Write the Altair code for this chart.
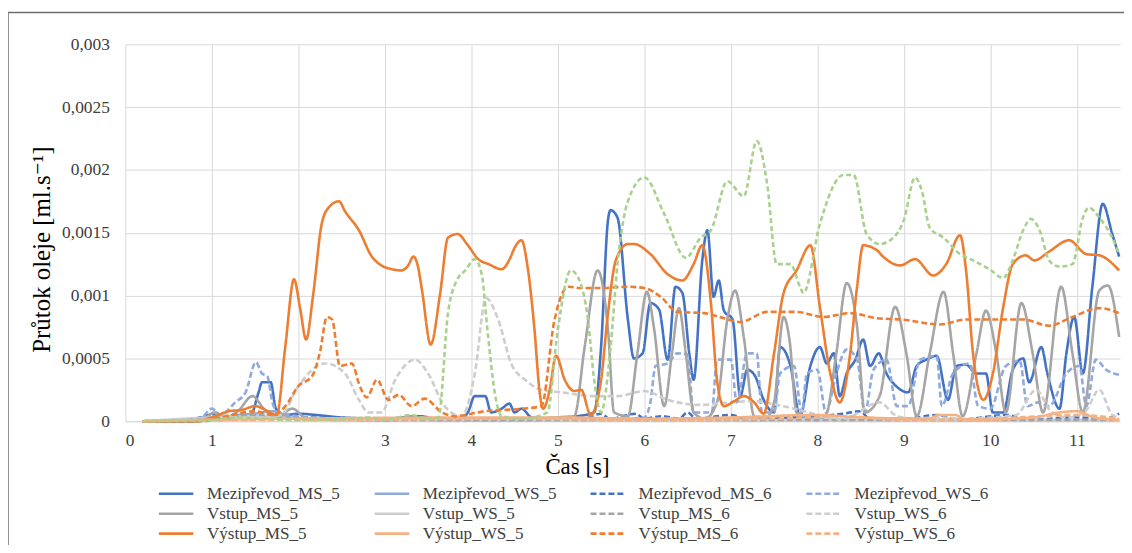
import altair as alt
import pandas as pd

# ---------------- data (time in s, flow in 1e-4 ml/s) ----------------
# legend order (filled column by column: 4 columns x 3 rows)
names = ["Mezipřevod_MS_5", "Vstup_MS_5", "Výstup_MS_5",
         "Mezipřevod_WS_5", "Vstup_WS_5", "Výstup_WS_5",
         "Mezipřevod_MS_6", "Vstup_MS_6", "Výstup_MS_6",
         "Mezipřevod_WS_6", "Vstup_WS_6", "Výstup_WS_6"]
colors = ["#4472C4", "#A5A5A5", "#ED7D31",
          "#8FAADC", "#CDCDCD", "#F4B183",
          "#4472C4", "#A5A5A5", "#ED7D31",
          "#8FAADC", "#CDCDCD", "#F4B183"]
dashes = [[1, 0], [1, 0], [1, 0],
          [1, 0], [1, 0], [1, 0],
          [6, 3], [6, 3], [6, 3],
          [6, 3], [6, 3], [6, 3]]
green_name = "Zelená"
green_color = "#A9D18E"

mezi_ms5_t = [0.2, 0.8, 0.85, 1.0, 1.1, 1.3, 1.45, 1.54, 1.58, 1.68, 1.74, 1.85, 2.0, 2.2, 2.5, 3.0, 3.4, 3.6, 3.9, 3.96,
              4.04, 4.16, 4.23, 4.35, 4.44, 4.5, 4.58, 4.7, 5.0, 5.23, 5.42, 5.5, 5.58, 5.61, 5.69, 5.81, 5.88, 5.98,
              6.07, 6.17, 6.27, 6.36, 6.44, 6.52, 6.57, 6.67, 6.73, 6.8, 6.86, 6.92, 7.02, 7.11, 7.19, 7.28, 7.38,
              7.5, 7.57, 7.69, 7.8, 7.92, 8.03, 8.11, 8.19, 8.26, 8.34, 8.44, 8.53, 8.61, 8.71, 8.8, 8.91, 9.05,
              9.15, 9.26, 9.38, 9.51, 9.61, 9.72, 9.84, 9.95, 10.03, 10.15, 10.26, 10.38, 10.45, 10.59, 10.66,
              10.8, 10.88, 10.97, 11.07, 11.18, 11.3, 11.41, 11.49]
mezi_ms5_v = [0, 0, 0.3, 0.3, 0.1, 0.4, 0.5, 2.3, 3.1, 3.1, 1.0, 0.5, 0.6, 0.5, 0.3, 0.2, 0.4, 0.2, 0.3, 0.7,
              2.0, 2.0, 0.7, 1.0, 1.4, 0.7, 1.0, 0.3, 0.2, 0.4, 0.7, 5.9, 16.0, 16.8, 16.2, 8.1, 5.0, 5.4,
              9.4, 8.9, 4.9, 10.7, 10.2, 5.4, 3.3, 12.8, 15.2, 9.9, 11.2, 8.8, 8.1, 2.0, 4.1, 3.6, 1.7,
              0.7, 5.9, 4.4, 0.4, 4.4, 5.9, 4.6, 5.4, 2.0, 3.8, 4.9, 6.5, 4.4, 5.4, 3.8, 2.8, 2.3,
              4.4, 4.9, 5.2, 1.7, 4.4, 4.5, 3.8, 3.8, 0.7, 0.7, 4.1, 5.0, 3.1, 5.9, 3.8,
              1.0, 5.4, 8.3, 3.8, 10.7, 17.3, 14.9, 13.1]

mezi_ws5_t = [0.2, 0.9, 1.0, 1.1, 1.3, 1.5, 1.7, 1.9, 2.5, 4.0, 6.0, 8.0, 10.0, 11.49]
mezi_ws5_v = [0, 0.2, 0.6, 0.2, 0.5, 0.6, 0.8, 0.3, 0.1, 0.1, 0.1, 0.1, 0.1, 0.1]

mezi_ms6_t = [0.2, 0.8, 0.9, 1.0, 1.2, 1.5, 1.8, 2.0, 2.5, 3.0, 3.4, 3.6, 4.5, 5.3, 5.5, 5.6, 5.9, 6.0, 6.2, 6.4,
              6.5, 6.6, 7.0, 7.2, 7.7, 8.3, 8.5, 8.6, 9.0, 9.4, 9.6, 10.2, 10.4, 11.0, 11.3, 11.49]
mezi_ms6_v = [0, 0, 0.4, 0.5, 0.3, 0.4, 0.2, 0.3, 0.2, 0.1, 0.3, 0.1, 0.1, 0.2, 0.6, 0.2, 0.6, 0.2, 0.4, 0.2,
              0.7, 0.2, 0.5, 0.1, 0.3, 0.6, 0.8, 0.2, 0.2, 0.5, 0.1, 0.5, 0.1, 0.3, 0.2, 0.6]

mezi_ws6_t = [0.2, 0.85, 1.0, 1.1, 1.27, 1.39, 1.51, 1.58, 1.64, 1.7, 1.76, 1.9, 2.1, 2.5, 3.0, 4.0, 5.0, 5.8,
              6.0, 6.07, 6.13, 6.27, 6.38, 6.5, 6.57, 6.78, 6.84, 7.0, 7.07, 7.19, 7.3, 7.36, 7.5, 7.57, 7.73,
              7.82, 7.88, 8.0, 8.1, 8.22, 8.34, 8.46, 8.55, 8.65, 8.8, 8.92, 9.05, 9.19, 9.38, 9.44, 9.57, 9.76,
              9.86, 10.0, 10.18, 10.34, 10.43, 10.55, 10.68, 10.88, 11.03, 11.11, 11.22, 11.34, 11.49]
mezi_ws6_v = [0, 0.1, 1.0, 0.5, 1.5, 2.3, 4.7, 3.8, 3.6, 1.5, 0.7, 0.5, 0.3, 0.2, 0.1, 0.2, 0.2, 0.2,
              0.3, 1.5, 4.4, 4.6, 5.4, 5.3, 0.7, 0.7, 4.9, 4.9, 1.5, 5.4, 5.4, 0.7, 0.7, 3.8, 4.4,
              0.7, 3.8, 4.1, 0.7, 3.8, 5.7, 4.9, 0.7, 4.1, 4.9, 1.2, 1.2, 4.9, 5.2, 1.2, 3.8, 4.6,
              1.2, 1.0, 4.4, 4.8, 1.2, 1.5, 1.2, 3.8, 4.4, 1.2, 4.9, 4.1, 3.7]

vstup_ms5_t = [0.2, 0.85, 1.04, 1.15, 1.3, 1.47, 1.6, 1.75, 1.93, 2.1, 3.0, 3.5, 4.0, 5.19, 5.31, 5.46, 5.58,
               5.65, 5.81, 5.92, 6.03, 6.11, 6.23, 6.32, 6.4, 6.48, 6.57, 6.7, 6.84, 6.96, 7.05, 7.15, 7.27,
               7.4, 7.5, 7.61, 7.68, 7.76, 8.0, 8.1, 8.22, 8.34, 8.46, 8.55, 8.72, 8.9, 9.03, 9.15, 9.3, 9.46,
               9.57, 9.68, 9.84, 9.95, 10.07, 10.18, 10.36, 10.49, 10.61, 10.82, 10.95, 11.07, 11.26, 11.36, 11.49]
vstup_ms5_v = [0, 0, 0.7, 0.3, 0.8, 2.0, 1.0, 0.3, 1.0, 0.2, 0.1, 0.2, 0.1, 0.4, 5.9, 12.0, 7.3,
               0.7, 0.4, 5.4, 10.3, 7.5, 1.2, 5.4, 9.0, 5.4, 0.7, 0.2, 1.5, 8.1, 10.4, 6.7, 0.4,
               0.2, 1.5, 8.3, 6.4, 0.7, 0.1, 0.5, 5.4, 11.0, 7.5, 0.7, 2.0, 9.1, 5.4, 0.4, 5.4, 10.3,
               5.4, 0.4, 5.4, 8.8, 5.4, 0.7, 9.4, 5.4, 0.7, 10.7, 5.4, 0.7, 10.4, 10.8, 6.7]

vstup_ws5_t = [0.2, 1.0, 1.5, 2.0, 3.0, 5.0, 8.0, 11.49]
vstup_ws5_v = [0, 0.3, 0.4, 0.2, 0.1, 0.1, 0.1, 0.1]

vstup_ms6_t = [0.2, 1.0, 1.5, 2.0, 3.0, 6.0, 9.0, 11.49]
vstup_ms6_v = [0, 0.2, 0.5, 0.2, 0.1, 0.1, 0.1, 0.1]

vstup_ws6_t = [0.2, 0.9, 1.1, 1.3, 1.6, 1.8, 2.0, 2.31, 2.54, 2.7, 2.81, 2.96, 3.12, 3.35, 3.5, 3.69, 3.89,
               4.04, 4.17, 4.31, 4.46, 4.62, 4.81, 5.04, 5.42, 5.69, 6.0, 6.27, 6.65, 7.0, 7.23, 7.6, 7.9,
               8.1, 8.3, 8.72, 8.9, 9.1, 9.4, 9.7, 10.0, 10.3, 10.53, 10.7, 10.9, 11.1, 11.26, 11.41, 11.49]
vstup_ws6_v = [0, 0.1, 0.5, 0.3, 0.3, 0.5, 2.8, 4.6, 3.8, 1.7, 0.7, 0.7, 3.3, 4.9, 3.8, 1.2, 0.4,
               3.8, 9.8, 8.1, 4.6, 3.3, 2.5, 2.3, 2.0, 2.0, 2.4, 1.7, 1.3, 1.5, 1.6, 1.2, 0.7,
               0.3, 0.2, 1.5, 0.5, 0.2, 0.3, 0.2, 0.3, 0.5, 2.5, 0.8, 0.3, 0.8, 2.5, 0.5, 0.3]

vystup_ms5_t = [0.2, 0.8, 1.0, 1.2, 1.35, 1.5, 1.62, 1.75, 1.85, 1.95, 2.02, 2.09, 2.17, 2.27, 2.35, 2.47, 2.54,
                2.7, 2.85, 2.96, 3.08, 3.19, 3.27, 3.33, 3.38, 3.43, 3.53, 3.64, 3.73, 3.84, 3.96, 4.08, 4.2,
                4.35, 4.45, 4.5, 4.58, 4.65, 4.73, 4.79, 4.83, 4.9, 4.98, 5.08, 5.19, 5.27, 5.38, 5.5, 5.58,
                5.67, 5.81, 5.88, 6.07, 6.27, 6.44, 6.57, 6.67, 6.77, 6.84, 6.92, 7.04, 7.15, 7.27, 7.38,
                7.5, 7.61, 7.76, 7.92, 8.03, 8.15, 8.26, 8.38, 8.46, 8.53, 8.69, 8.76, 8.96, 9.13, 9.34,
                9.49, 9.65, 9.72, 9.8, 9.92, 10.03, 10.15, 10.26, 10.41, 10.51, 10.68, 10.91, 11.11, 11.26, 11.49]
vystup_ms5_v = [0, 0, 0.3, 0.8, 0.9, 1.2, 0.9, 0.5, 6.0, 11.3, 9.0, 6.5, 10.0, 15.7, 17.0, 17.5, 16.7,
                15.2, 13.1, 12.4, 12.1, 12.0, 12.4, 13.1, 12.4, 10.4, 6.1, 10.2, 14.6, 14.9, 14.0, 12.9, 12.5,
                12.1, 13.0, 13.8, 14.4, 12.3, 7.3, 2.3, 1.0, 2.3, 5.2, 3.3, 2.4, 2.5, 0.5, 3.3, 8.6,
                12.8, 14.1, 14.1, 13.3, 11.7, 11.2, 12.5, 14.0, 9.4, 3.3, 1.2, 1.6, 2.0, 1.5, 0.6,
                5.4, 10.2, 12.0, 14.0, 9.1, 3.8, 1.5, 5.4, 10.7, 14.0, 13.6, 13.1, 12.4, 12.9, 11.6,
                12.5, 14.8, 12.0, 5.4, 1.7, 3.8, 9.1, 12.5, 13.2, 12.8, 13.5, 14.4, 13.3, 13.2, 12.0]

vystup_ws5_t = [0.2, 1.0, 2.0, 4.0, 5.0, 6.0, 7.0, 8.0, 8.5, 9.3, 9.4, 9.6, 9.7, 10.5, 10.8, 11.0, 11.2, 11.49]
vystup_ws5_v = [0, 0.1, 0.2, 0.3, 0.3, 0.2, 0.3, 0.5, 0.3, 0.2, 0.5, 0.5, 0.1, 0.3, 0.7, 0.8, 0.3, 0.1]

vystup_ms6_t = [0.2, 0.9, 1.1, 1.3, 1.5, 1.7, 1.85, 2.0, 2.16, 2.25, 2.33, 2.39, 2.48, 2.62, 2.7, 2.79, 2.91,
                3.04, 3.16, 3.31, 3.46, 3.66, 3.81, 4.0, 4.16, 4.4, 4.6, 4.81, 4.96, 5.12, 5.27, 5.5, 5.81,
                6.0, 6.19, 6.38, 6.69, 6.92, 7.11, 7.42, 7.76, 8.07, 8.38, 8.69, 8.96, 9.42, 9.72, 10.11,
                10.38, 10.68, 10.95, 11.26, 11.49]
vystup_ms6_v = [0, 0, 0.3, 0.6, 0.8, 0.5, 1.2, 2.8, 3.6, 5.5, 8.3, 8.1, 4.4, 4.6, 3.0, 1.9, 3.3,
                1.7, 2.1, 1.2, 1.8, 0.7, 0.4, 0.6, 0.8, 0.9, 1.0, 1.2, 8.0, 10.7, 10.6, 10.6, 10.7,
                10.6, 9.9, 8.7, 8.6, 8.2, 7.9, 8.7, 8.7, 8.3, 8.6, 8.2, 8.1, 7.7, 8.1, 8.1,
                8.1, 7.6, 8.3, 9.0, 8.6]

vystup_ws6_t = [0.2, 1.0, 2.0, 4.5, 6.0, 7.5, 8.3, 9.0, 10.0, 11.0, 11.49]
vystup_ws6_v = [0, 0.1, 0.1, 0.2, 0.1, 0.2, 0.4, 0.1, 0.2, 0.5, 0.2]

green_t = [0.2, 1.0, 1.3, 1.6, 2.0, 2.6, 2.8, 3.0, 3.3, 3.5, 3.62, 3.73, 3.83, 3.93, 4.04, 4.12, 4.19, 4.27,
           4.35, 4.6, 4.88, 5.0, 5.15, 5.23, 5.35, 5.42, 5.5, 5.61, 5.69, 5.81, 6.0, 6.23, 6.48, 6.65, 6.77,
           6.96, 7.15, 7.3, 7.42, 7.53, 7.69, 7.8, 7.84, 8.03, 8.3, 8.42, 8.57, 8.72, 8.88, 9.0, 9.13,
           9.21, 9.3, 9.46, 9.65, 9.8, 9.99, 10.15, 10.26, 10.38, 10.47, 10.57, 10.68, 10.8, 10.95,
           11.07, 11.14, 11.26, 11.41, 11.49]
green_v = [0, 0.1, 0.3, 0.2, 0.1, 0.2, 0.3, 0.1, 0.5, 0.2, 0.3, 8.6, 11.2, 12.0, 12.9, 11.7, 7.0, 2.3,
           0.4, 0.2, 0.7, 7.3, 12.0, 11.5, 8.0, 3.3, 0.7, 5.9, 12.5, 17.5, 19.4, 16.5, 13.0, 14.6, 15.2,
           19.1, 17.9, 22.3, 18.9, 12.5, 12.5, 10.7, 10.2, 15.7, 19.6, 19.6, 14.9, 14.1, 14.6, 16.0, 19.4,
           18.3, 15.4, 14.6, 13.3, 12.8, 12.1, 11.4, 12.8, 15.2, 16.1, 15.2, 12.8, 12.3, 12.5,
           16.2, 17.0, 16.2, 14.6, 13.3]

# drawing order (as in the original workbook)
series_data = [
    ("Mezipřevod_MS_5", mezi_ms5_t, mezi_ms5_v), ("Mezipřevod_WS_5", mezi_ws5_t, mezi_ws5_v),
    ("Mezipřevod_MS_6", mezi_ms6_t, mezi_ms6_v), ("Mezipřevod_WS_6", mezi_ws6_t, mezi_ws6_v),
    ("Vstup_MS_5", vstup_ms5_t, vstup_ms5_v), ("Vstup_WS_5", vstup_ws5_t, vstup_ws5_v),
    ("Vstup_MS_6", vstup_ms6_t, vstup_ms6_v), ("Vstup_WS_6", vstup_ws6_t, vstup_ws6_v),
    ("Výstup_MS_5", vystup_ms5_t, vystup_ms5_v), ("Výstup_WS_5", vystup_ws5_t, vystup_ws5_v),
    ("Výstup_MS_6", vystup_ms6_t, vystup_ms6_v), ("Výstup_WS_6", vystup_ws6_t, vystup_ws6_v),
    (green_name, green_t, green_v),
]

x_ticks = list(range(12))
y_ticks = [0, 0.0005, 0.001, 0.0015, 0.002, 0.0025, 0.003]

rows = []
for name, ts, vs in series_data:
    for t, v in zip(ts, vs):
        rows.append({"series": name, "t": t, "v": v * 1e-4})
df = pd.DataFrame(rows)

SERIF = "Liberation Serif, Times New Roman, DejaVu Serif, serif"

x_enc = alt.X("t:Q",
              scale=alt.Scale(domain=[0, 11.5], nice=False, zero=False),
              axis=alt.Axis(values=x_ticks, title="Čas [s]", grid=True, ticks=False,
                            domainColor="#D9D9D9", gridColor="#D9D9D9",
                            labelFont=SERIF, labelFontSize=17.5, labelColor="#404040",
                            labelPadding=10, labelBaseline="top",
                            titleFont=SERIF, titleFontSize=23, titleFontWeight="normal",
                            titleColor="#000000", titleX=454, titleY=53,
                            titleBaseline="alphabetic", titleAlign="center"))
y_enc = alt.Y("v:Q",
              scale=alt.Scale(domain=[0, 0.003], nice=False),
              axis=alt.Axis(values=y_ticks, title="Průtok oleje [ml.s⁻¹]", grid=True, ticks=False,
                            domain=False, gridColor="#D9D9D9",
                            labelExpr="replace(format(datum.value, '~g'), '.', ',')",
                            labelFont=SERIF, labelFontSize=17.5, labelColor="#404040",
                            labelPadding=16,
                            titleFont=SERIF, titleFontSize=25, titleFontWeight="normal",
                            titleColor="#000000", titleX=-76, titleY=206, titleAngle=-90,
                            titleBaseline="alphabetic", titleAlign="center"))

legend = alt.Legend(title=None, orient="none", legendX=32, legendY=443, columns=4,
                    columnPadding=32, rowPadding=2, gridAlign="all",
                    symbolType="stroke", symbolSize=1200, symbolStrokeWidth=2.6,
                    clipHeight=18, labelFont=SERIF, labelFontSize=17.2,
                    labelColor="#404040", labelOffset=12, labelLimit=400, padding=0)

lines = alt.Chart(df).transform_filter(
    alt.datum.series != green_name
).mark_line(interpolate="monotone", strokeWidth=2.6).encode(
    x=x_enc, y=y_enc,
    color=alt.Color("series:N", scale=alt.Scale(domain=names, range=colors), legend=legend),
    strokeDash=alt.StrokeDash("series:N", scale=alt.Scale(domain=names, range=dashes), legend=legend),
    order=alt.Order("t:Q"),
)

green = alt.Chart(df).transform_filter(
    alt.datum.series == green_name
).mark_line(interpolate="monotone", strokeWidth=2.6, color=green_color, strokeDash=[5, 3]).encode(
    x=x_enc, y=y_enc, order=alt.Order("t:Q"),
)

frame = alt.Chart(pd.DataFrame({"a": [0]})).mark_rect(
    fill="white", fillOpacity=0, stroke="#6E6E6E", strokeWidth=1.5
).encode(x=alt.value(-118), x2=alt.value(1200), y=alt.value(-32), y2=alt.value(700))

chart = alt.layer(frame, lines, green).properties(
    width=1000, height=379,
    autosize=alt.AutoSizeParams(type="none"),
    padding={"left": 118, "top": 35, "right": 4, "bottom": 123},
    background="white",
).configure_view(stroke=None)

chart.save("out.html", embed_options={"renderer": "svg", "actions": False})
